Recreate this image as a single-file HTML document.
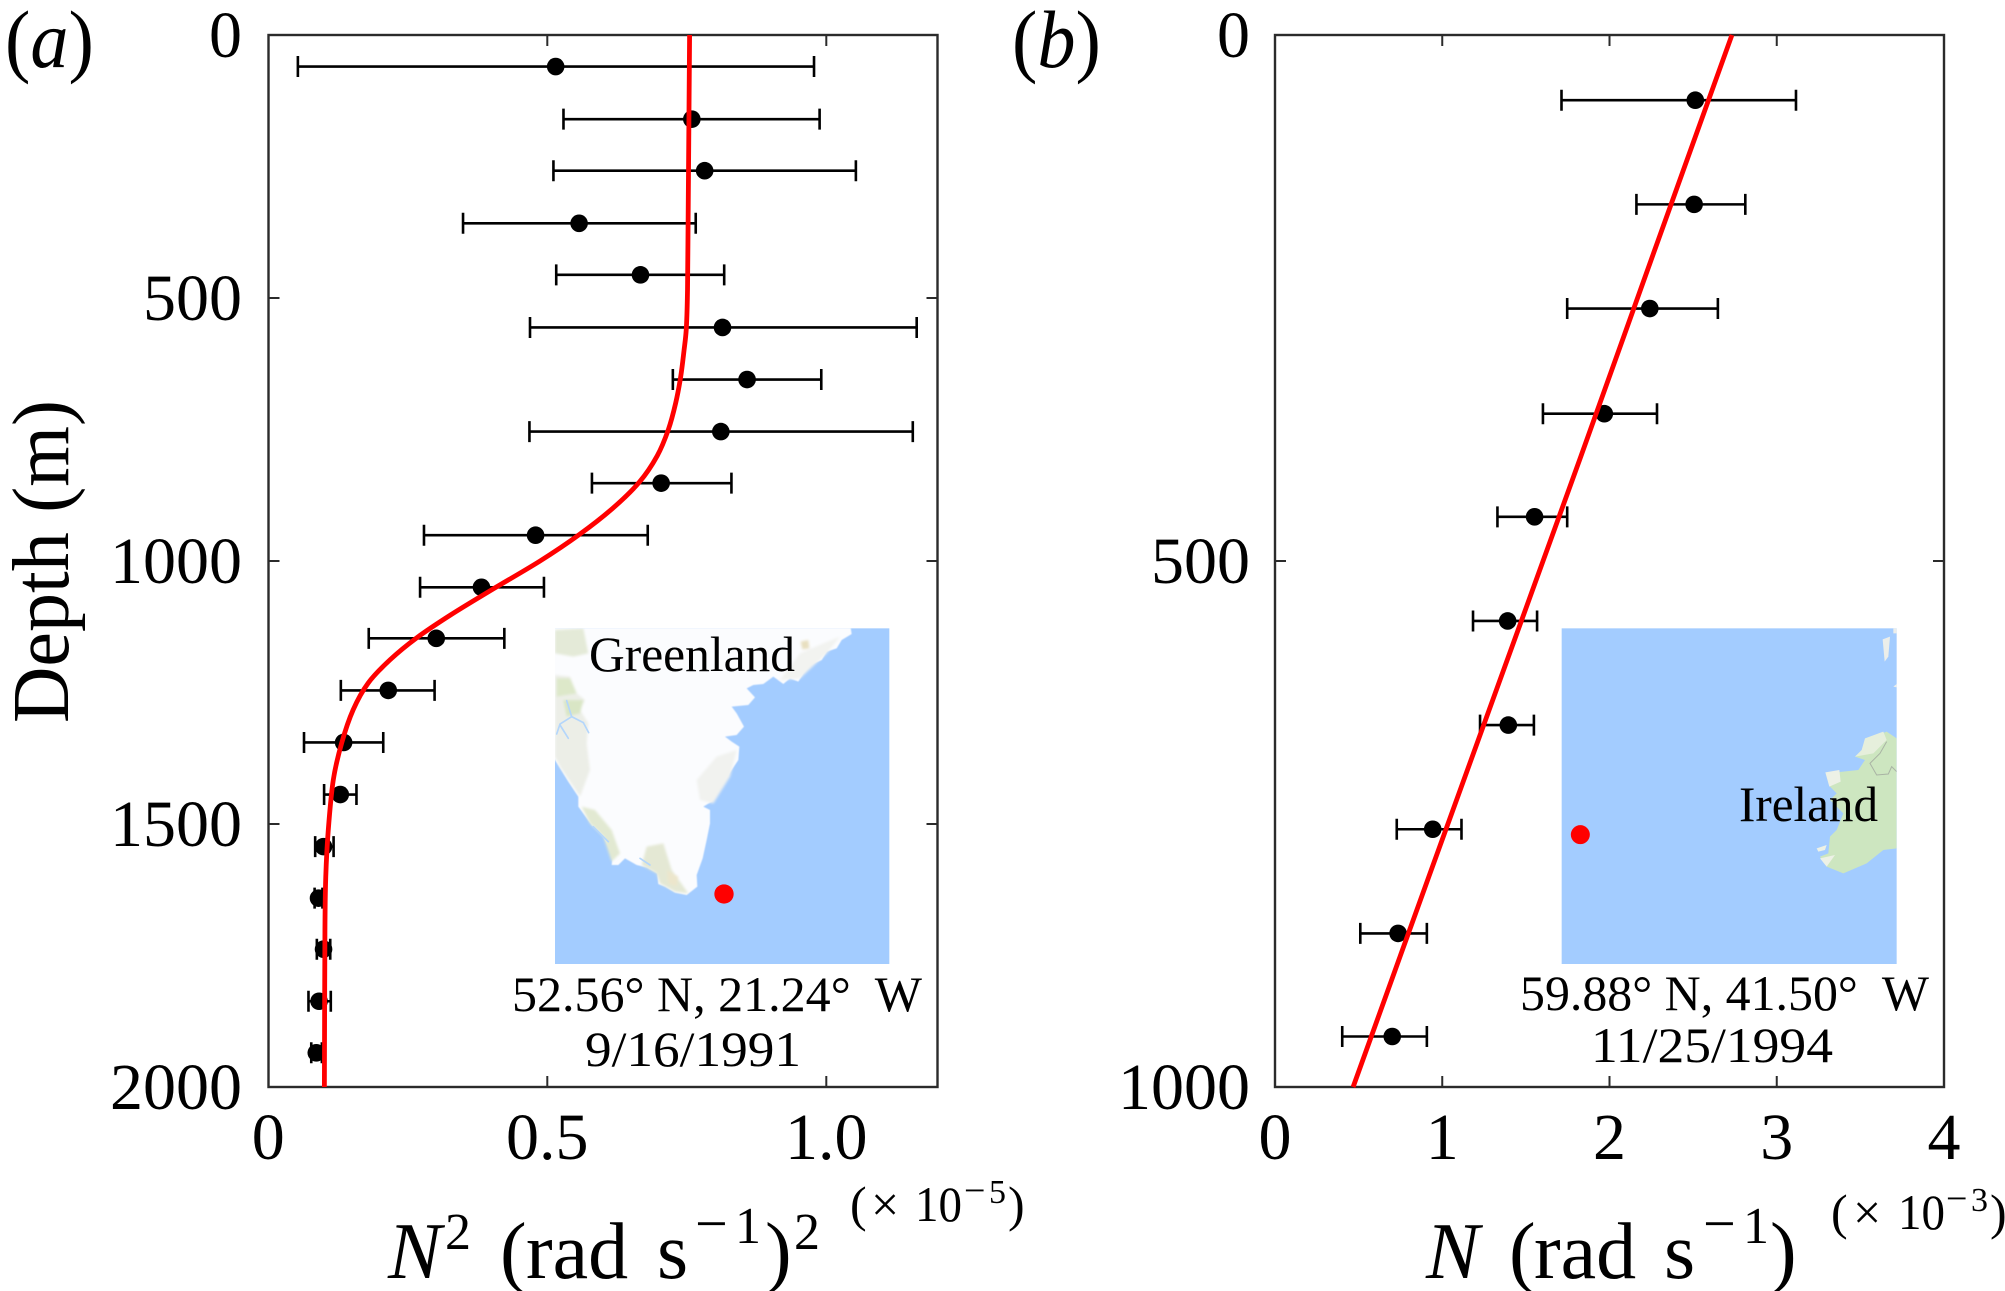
<!DOCTYPE html>
<html lang="en">
<head>
<meta charset="utf-8">
<title>Stratification profiles</title>
<style>
html,body{margin:0;padding:0;background:#fff;}
svg{display:block;}
text{font-family:"Liberation Serif",serif;fill:#000;}
.tick{font-size:66px;}
.big{font-size:80px;}
.ital{font-style:italic;}
.sup{font-size:52px;}
.supminus{font-size:58px;}
.scale{font-size:50px;}
.scalesup{font-size:34px;}
.scaleminus{font-size:38px;}
.cap{font-size:50px;}
</style>
</head>
<body>
<svg id="fig" xmlns="http://www.w3.org/2000/svg" width="2005" height="1291" viewBox="0 0 2005 1291">
  <defs>
    <filter id="soft" x="-10%" y="-10%" width="120%" height="120%"><feGaussianBlur stdDeviation="4"/></filter>
    <filter id="edge" x="-2%" y="-2%" width="104%" height="104%"><feGaussianBlur stdDeviation="1.5"/></filter>
    <clipPath id="clipA"><rect x="45" y="55" width="1003" height="1007"/></clipPath>
    <clipPath id="clipB"><rect x="35" y="55" width="1005" height="1007"/></clipPath>
  </defs>
  <rect width="2005" height="1291" fill="#fff"/>

  <g id="panelA"></g>
  <g id="panelB"></g>

  <g transform="translate(540,610) scale(0.33333)">
    <rect x="45" y="55" width="1003" height="1007" fill="#a3ccff"/>
    <g clip-path="url(#clipA)">
      <polygon filter="url(#edge)" fill="#fbfcfe" points="30,40 930,40 935,72 905,90 890,115 860,125 845,150 810,165 790,190 775,215 750,205 730,222 700,200 670,222 640,225 620,235 645,262 625,285 575,290 590,310 612,350 590,375 555,380 575,395 598,410 595,450 565,495 540,530 525,555 515,575 490,590 510,600 510,640 500,690 488,745 470,795 472,830 440,855 405,848 375,830 355,822 352,790 320,772 290,765 255,745 235,765 215,765 218,735 190,680 155,645 115,590 115,560 85,515 45,450 30,430"/>
      <g filter="url(#soft)">
        <polygon fill="#e4ead8" points="45,60 130,55 145,130 100,140 45,130"/>
        <polygon fill="#eceee7" points="45,195 90,200 110,250 135,270 120,300 145,340 140,400 150,480 120,560 60,470 45,440"/>
        <polygon fill="#dde8c9" points="50,205 90,205 110,250 50,260"/>
        <polygon fill="#d9e6c5" points="70,270 130,270 120,310 80,320"/>
        <polygon fill="#e2e9d2" points="125,590 165,600 215,660 240,730 215,755 190,680 150,640"/>
        <polygon fill="#e4e8d4" points="320,710 370,700 395,780 445,850 405,845 360,820 350,790 305,765"/>
        <polygon fill="#ece6cc" points="380,780 415,800 410,830 385,820"/>
        <polygon fill="#f1f2ef" points="470,510 530,440 590,420 570,500 520,580 480,570"/>
        <polygon fill="#f2f3f0" points="720,210 780,130 850,100 900,80 860,130 780,205"/>
        <polygon fill="#e8dfc0" points="782,95 805,90 808,115 787,118"/>
      </g>
      <g fill="none" stroke="#b4d6fb" stroke-width="5" stroke-linecap="round">
        <polyline points="80,272 95,320 130,338"/>
        <polyline points="95,320 60,342 50,372"/>
        <polyline points="130,338 146,368"/>
        <polyline points="60,345 85,385"/>
        <polyline points="160,650 205,695"/>
        <polyline points="300,745 330,765"/>
      </g>
      <circle cx="552" cy="852" r="29" fill="#ff0000"/>
    </g>
  </g>

  <g transform="translate(1550,610) scale(0.33333)">
    <rect x="35" y="55" width="1005" height="1007" fill="#a3ccff"/>
    <g clip-path="url(#clipB)">
      <polygon fill="#cde6c0" points="1040,385 1010,365 985,375 945,390 935,425 915,440 945,450 925,480 830,490 840,530 860,550 840,570 880,610 860,660 840,680 835,730 810,740 830,770 880,790 950,760 1000,720 1040,715"/>
      <polygon fill="#e6efdc" points="945,385 1000,365 1010,390 970,430 915,440 935,420"/>
      <polygon fill="#edf1e6" points="826,487 868,480 872,515 838,530"/>
      <polygon fill="#edf1e6" points="800,715 830,705 825,720 805,725"/>
      <polygon fill="#edf1e6" points="810,745 855,735 830,770"/>
      <polygon fill="#eceeea" points="998,88 1020,80 1015,140 1004,155"/>
      <polygon fill="#eceeea" points="1030,55 1040,55 1040,70 1030,70"/>
      <polygon fill="#eceeea" points="1030,230 1040,222 1040,232"/>
      <polyline fill="none" stroke="#a9b3a4" stroke-width="3" points="1010,395 990,430 960,460 980,495 1015,492 1025,470 1040,485"/>
      <circle cx="91" cy="674" r="28.5" fill="#ff0000"/>
    </g>
  </g>

  <text class="cap" x="589" y="671" textLength="206" lengthAdjust="spacingAndGlyphs">Greenland</text>
  <text class="cap" x="1739" y="821" textLength="139" lengthAdjust="spacingAndGlyphs">Ireland</text>
  <text class="cap" x="512" y="1011" textLength="410" lengthAdjust="spacingAndGlyphs" xml:space="preserve">52.56° N, 21.24°  W</text>
  <text class="cap" x="585" y="1066" textLength="216" lengthAdjust="spacingAndGlyphs">9/16/1991</text>
  <text class="cap" x="1520" y="1010" textLength="409" lengthAdjust="spacingAndGlyphs" xml:space="preserve">59.88° N, 41.50°  W</text>
  <text class="cap" x="1591" y="1062" textLength="242" lengthAdjust="spacingAndGlyphs">11/25/1994</text>

  <text font-size="82" transform="translate(5,67) scale(0.93,1)">(<tspan class="ital">a</tspan>)</text>
  <text font-size="82" transform="translate(1012,67) scale(0.93,1)">(<tspan class="ital">b</tspan>)</text>

  <text font-size="80" transform="translate(68,723) rotate(-90)" textLength="323" lengthAdjust="spacingAndGlyphs">Depth (m)</text>

  <g>
    <text class="big ital" x="388" y="1278">N</text>
    <text class="sup" x="445" y="1249">2</text>
    <text class="big" x="500" y="1278">(</text>
    <text class="big" x="526" y="1278">rad</text>
    <text class="big" x="657" y="1278">s</text>
    <text class="supminus" x="695" y="1243">−</text>
    <text class="sup" x="735" y="1243">1</text>
    <text class="big" x="765" y="1278">)</text>
    <text class="sup" x="794" y="1249">2</text>
  </g>
  <g>
    <text class="scale" x="850" y="1221">(</text>
    <text class="scale" x="871" y="1221">×</text>
    <text class="scale" x="915" y="1221" textLength="47" lengthAdjust="spacingAndGlyphs">10</text>
    <text class="scaleminus" x="964" y="1203">−</text>
    <text class="scalesup" x="989" y="1203">5</text>
    <text class="scale" x="1008" y="1221">)</text>
  </g>

  <g>
    <text class="big ital" x="1426" y="1278">N</text>
    <text class="big" x="1509" y="1278">(</text>
    <text class="big" x="1534" y="1278">rad</text>
    <text class="big" x="1664" y="1278">s</text>
    <text class="supminus" x="1703" y="1243">−</text>
    <text class="sup" x="1743" y="1243">1</text>
    <text class="big" x="1770" y="1278">)</text>
  </g>
  <g>
    <text class="scale" x="1831" y="1229">(</text>
    <text class="scale" x="1853" y="1229">×</text>
    <text class="scale" x="1898" y="1229" textLength="47" lengthAdjust="spacingAndGlyphs">10</text>
    <text class="scaleminus" x="1946" y="1211">−</text>
    <text class="scalesup" x="1971" y="1211">3</text>
    <text class="scale" x="1990" y="1229">)</text>
  </g>

  <g id="overlayA"></g>
  <g id="overlayB"></g>
</svg>

<script>
// Panel (a): N^2 profile (x 10^-5)
const depthsA = [60,160,258,358,456,556,655,754,852,951,1050,1147,1246,1345,1444,1543,1641,1738,1837,1935];
const valuesA = [0.515,0.759,0.782,0.557,0.667,0.814,0.858,0.811,0.704,0.479,0.382,0.301,0.215,0.135,0.129,0.099,0.090,0.099,0.091,0.086];
const lowerA  = [0.053,0.529,0.511,0.349,0.516,0.469,0.725,0.468,0.580,0.279,0.272,0.180,0.130,0.064,0.100,0.084,0.083,0.087,0.072,0.077];
const upperA  = [0.978,0.988,1.053,0.766,0.817,1.162,0.991,1.155,0.830,0.680,0.494,0.423,0.298,0.206,0.158,0.117,0.097,0.111,0.112,0.096];
const curveDepthsA = [0,400,500,560,600,650,700,750,800,850,900,950,1000,1055,1103,1146,1188,1232,1283,1346,1416,1511,1600,1700,2000];
const curveValuesA = [0.755,0.752,0.751,0.749,0.745,0.739,0.730,0.717,0.697,0.665,0.617,0.557,0.487,0.400,0.326,0.266,0.218,0.179,0.152,0.1315,0.1165,0.1075,0.103,0.1015,0.1005];
const xTicksA = [0,0.5,1.0];
const xTickLabelsA = ['0','0.5','1.0'];
const yTicksA = [0,500,1000,1500,2000];

// Panel (b): N profile (x 10^-3)
const depthsB = [62,161,260,360,458,557,656,755,854,952];
const valuesB = [2.513,2.506,2.241,1.969,1.552,1.391,1.395,0.943,0.736,0.701];
const lowerB  = [1.713,2.161,1.747,1.602,1.330,1.184,1.226,0.728,0.510,0.402];
const upperB  = [3.115,2.812,2.648,2.284,1.747,1.567,1.548,1.115,0.908,0.908];
const curveDepthsB = [0,200,400,600,800,1000];
const curveValuesB = [2.732,2.28,1.83,1.375,0.92,0.467];
const xTicksB = [0,1,2,3,4];
const xTickLabelsB = ['0','1','2','3','4'];
const yTicksB = [0,500,1000];

const NS = 'http://www.w3.org/2000/svg';
function mk(parent, tag, attrs) {
  const el = document.createElementNS(NS, tag);
  for (const k in attrs) el.setAttribute(k, attrs[k]);
  parent.appendChild(el);
  return el;
}
function scale(d0, d1, r0, r1) {
  return v => r0 + (v - d0) * (r1 - r0) / (d1 - d0);
}
function smoothPath(px) {
  let d = 'M' + px[0][0].toFixed(2) + ' ' + px[0][1].toFixed(2);
  for (let i = 0; i < px.length - 1; i++) {
    const p0 = px[Math.max(i - 1, 0)], p1 = px[i], p2 = px[i + 1], p3 = px[Math.min(i + 2, px.length - 1)];
    const c1x = p1[0] + (p2[0] - p0[0]) / 6, c1y = p1[1] + (p2[1] - p0[1]) / 6;
    const c2x = p2[0] - (p3[0] - p1[0]) / 6, c2y = p2[1] - (p3[1] - p1[1]) / 6;
    d += 'C' + c1x.toFixed(2) + ' ' + c1y.toFixed(2) + ' ' + c2x.toFixed(2) + ' ' + c2y.toFixed(2) + ' ' + p2[0].toFixed(2) + ' ' + p2[1].toFixed(2);
  }
  return d;
}

function drawAxes(g, x, y, box, xTicks, xLabels, yTicks, yLabelRight) {
  const axisStroke = '#2b2b2b';
  const frame = mk(g, 'rect', {x: box.l, y: box.t, width: box.r - box.l, height: box.b - box.t, fill: 'none', stroke: axisStroke, 'stroke-width': 2.4});
  
  
  xTicks.forEach((t, i) => {
    const px = x(t);
    if (t > 0 && px < box.r - 1) {
      const bottomTick = mk(g, 'line', {x1: px, x2: px, y1: box.b, y2: box.b - 11, stroke: axisStroke, 'stroke-width': 2});
      
      
      const topTick = mk(g, 'line', {x1: px, x2: px, y1: box.t, y2: box.t + 11, stroke: axisStroke, 'stroke-width': 2});
      
      
    }
    const label = mk(g, 'text', {x: px, y: 1159, class: 'tick', 'text-anchor': 'middle'});
    label.textContent = xLabels[i];
    
    
  });
  yTicks.forEach(t => {
    const py = y(t);
    if (py > box.t + 1 && py < box.b - 1) {
      const leftTick = mk(g, 'line', {x1: box.l, x2: box.l + 11, y1: py, y2: py, stroke: axisStroke, 'stroke-width': 2});
      
      
      const rightTick = mk(g, 'line', {x1: box.r, x2: box.r - 11, y1: py, y2: py, stroke: axisStroke, 'stroke-width': 2});
      
      
    }
    const label = mk(g, 'text', {x: yLabelRight, y: py + 22, class: 'tick', 'text-anchor': 'end'});
    label.textContent = String(t);
    
    
  });
}

function drawSeries(g, x, y, depths, values, lower, upper, curveD, curveV) {
  depths.forEach((d, i) => {
    const py = y(d);
    const bar = mk(g, 'path', {
      d: 'M' + x(lower[i]) + ' ' + (py - 10.5) + 'V' + (py + 10.5) +
         'M' + x(upper[i]) + ' ' + (py - 10.5) + 'V' + (py + 10.5) +
         'M' + x(lower[i]) + ' ' + py + 'H' + x(upper[i]),
      fill: 'none', stroke: '#000', 'stroke-width': 2.6
    });
    
    
    const dot = mk(g, 'circle', {cx: x(values[i]), cy: py, r: 8.8, fill: '#000'});
    
    
  });
  const pts = curveD.map((d, i) => [x(curveV[i]), y(d)]);
  const curve = mk(g, 'path', {d: smoothPath(pts), fill: 'none', stroke: '#ff0000', 'stroke-width': 4.8, 'stroke-linejoin': 'round'});
  
  
}

const boxA = {l: 268.5, r: 937.5, t: 35, b: 1087};
const xA = scale(0, 1.2, 268.3, 937.9);
const yA = scale(0, 2000, 35, 1087);
drawAxes(document.getElementById('panelA'), xA, yA, boxA, xTicksA, xTickLabelsA, yTicksA, 242);
drawSeries(document.getElementById('overlayA'), xA, yA, depthsA, valuesA, lowerA, upperA, curveDepthsA, curveValuesA);

const boxB = {l: 1275, r: 1944, t: 35, b: 1087};
const xB = scale(0, 4, 1275, 1944);
const yB = scale(0, 1000, 35, 1087);
drawAxes(document.getElementById('panelB'), xB, yB, boxB, xTicksB, xTickLabelsB, yTicksB, 1250);
drawSeries(document.getElementById('overlayB'), xB, yB, depthsB, valuesB, lowerB, upperB, curveDepthsB, curveValuesB);
</script>
</body>
</html>
